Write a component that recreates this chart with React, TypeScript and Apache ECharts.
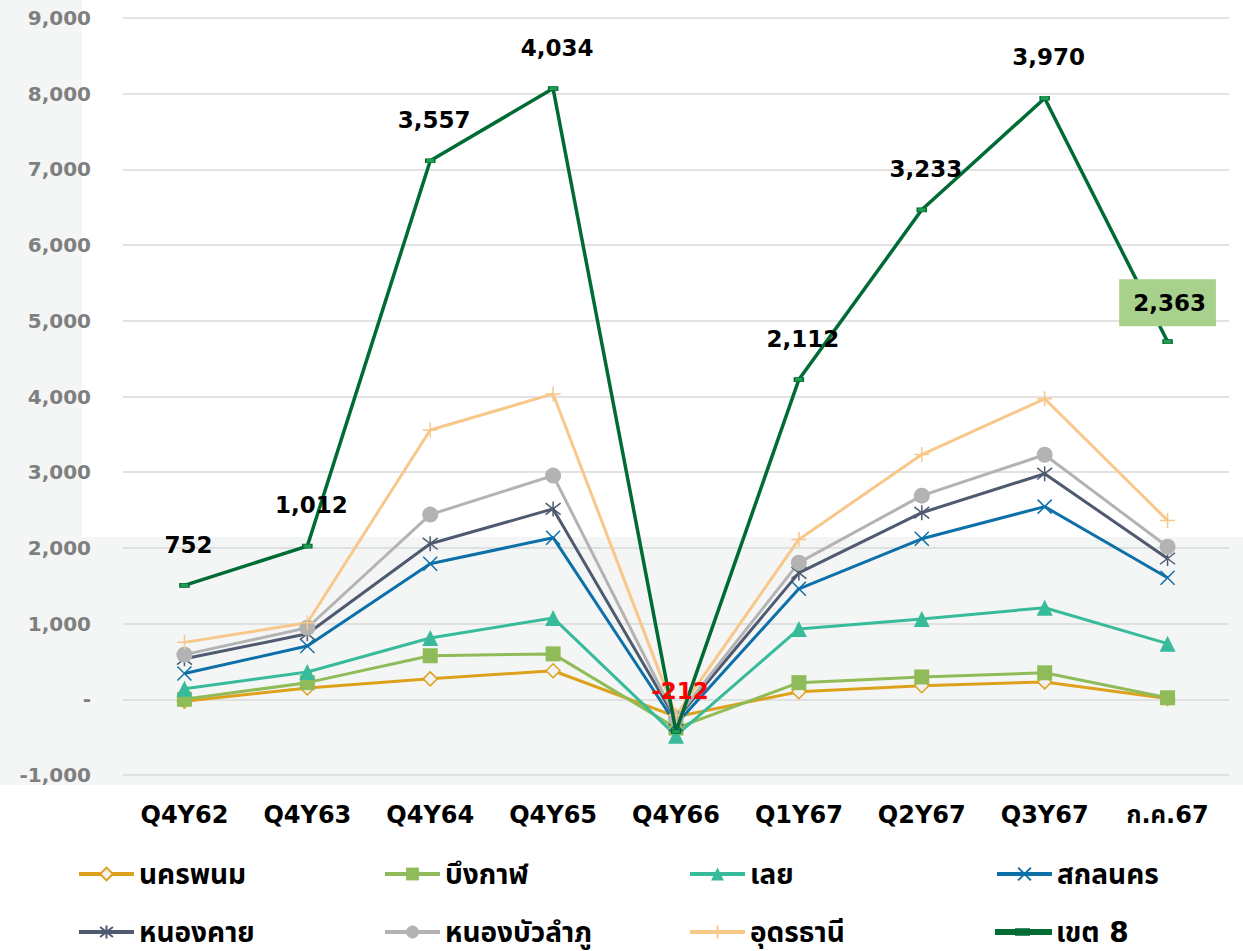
import React, { useEffect, useRef } from "react";
import * as echarts from "echarts";

const categories = ["Q4Y62", "Q4Y63", "Q4Y64", "Q4Y65", "Q4Y66", "Q1Y67", "Q2Y67", "Q3Y67", "ก.ค.67"];
const yTicks = [-1000, 0, 1000, 2000, 3000, 4000, 5000, 6000, 7000, 8000, 9000];

const nakhonPhanom = [-25, 150, 270, 377, -230, 100, 180, 230, 10];
const buengKan = [25, 70, 305, 223, -150, 120, 115, 120, 10];
const loei = [140, 140, 235, 475, -100, 710, 765, 860, 715];
const sakonNakhon = [200, 345, 980, 1060, 150, 530, 1060, 1335, 870];
const nongKhai = [195, 160, 265, 380, 60, 210, 345, 435, 255];
const nongBuaLamphu = [55, 80, 385, 440, 20, 135, 225, 250, 155];
const udonThani = [162, 67, 1117, 1079, 38, 307, 543, 740, 348];
const region8 = [752, 1012, 3557, 4034, -212, 2112, 3233, 3970, 2363];

const FONT = "'DejaVu Sans', 'Noto Sans Thai', 'Noto Sans', sans-serif";

const X_PATH = "path://M0,0L10,10M10,0L0,10";
const STAR_PATH = "path://M0,0L10,10M10,0L0,10M5,-1.5L5,11.5";
const PLUS_PATH = "path://M5,0L5,10M0,5L10,5";
const R8_ICON = "path://M0,5H55V9H0Z M20,4.2H33V9.8H20Z";

const fmt = (v: number) => (v === 0 ? "-" : v.toLocaleString("en-US"));

export default function App() {
  const ref = useRef<HTMLDivElement>(null);
  useEffect(() => {
    if (!ref.current) return;
    const chart = echarts.init(ref.current, undefined, { renderer: "svg" });

    const base = (name: string, data: number[], color: string, symbol: string, size: number, extra: any = {}) => ({
      name,
      type: "line",
      stack: "total",
      stackStrategy: "all",
      data,
      symbol,
      symbolSize: size,
      lineStyle: { color, width: 3 },
      itemStyle: { color },
      ...extra,
    });

    const strokeSym = (color: string) => ({
      itemStyle: { color: "none", borderColor: color, borderWidth: 1.5 },
    });

    const series: any[] = [
      base("นครพนม", nakhonPhanom, "#dea11c", "diamond", 14, {
        itemStyle: { color: "#f2f2f2", borderColor: "#dea11c", borderWidth: 1.5 },
      }),
      base("บึงกาฬ", buengKan, "#8fbb59", "rect", 15),
      base("เลย", loei, "#37bb9b", "triangle", 16),
      base("สกลนคร", sakonNakhon, "#0d70a8", X_PATH, 14, strokeSym("#0d70a8")),
      base("หนองคาย", nongKhai, "#4f5a70", STAR_PATH, 15, strokeSym("#4f5a70")),
      base("หนองบัวลำภู", nongBuaLamphu, "#b3b3b3", "circle", 16),
      base("อุดรธานี", udonThani, "#f8c88a", PLUS_PATH, 15, strokeSym("#f8c88a")),
      {
        name: "เขต 8",
        type: "line",
        stack: "total",
        stackStrategy: "all",
        symbol: "rect",
        symbolSize: [9, 4],
        lineStyle: { color: "#006b35", width: 3.5 },
        itemStyle: { color: "#1f9e4f", borderColor: "#006b35", borderWidth: 1 },
        z: 5,
        data: region8.map((v, i) => {
          const item: any = { value: v };
          if (v < 0) item.label = { color: "#ff0000" };
          if (i === region8.length - 1)
            item.label = {
              backgroundColor: "#a9d18e",
              padding: [12, 10, 12, 14],
              distance: 13,
              offset: [0, 0],
            };
          return item;
        }),
        label: {
          show: true,
          position: "top",
          distance: 27,
          offset: [4, 0],
          color: "#000",
          fontFamily: FONT,
          fontWeight: "bold",
          fontSize: 23,
          formatter: (p: any) => fmt(p.value),
        },
      },
    ];

    const legendPos = [
      [77, 860], [383, 860], [688, 860], [995, 860],
      [77, 918], [383, 918], [688, 918], [995, 918],
    ];
    const legends = series.map((s, i) => ({
      data: [i === 7 ? { name: s.name, icon: R8_ICON, itemStyle: { color: "#006b35" } } : s.name],
      left: legendPos[i][0],
      top: legendPos[i][1],
      padding: 0,
      itemWidth: 55,
      itemHeight: 16,
      itemGap: 5,
      lineStyle: { width: 4 },
      textStyle: { fontFamily: FONT, fontWeight: "bold", fontSize: 28, color: "#000" },
      selectedMode: false,
    }));

    chart.setOption({
      animation: false,
      backgroundColor: "#ffffff",
      graphic: [
        { type: "rect", shape: { x: 0, y: 537, width: 1243, height: 248 }, style: { fill: "#f4f6f5" }, z: -10, silent: true },
        { type: "rect", shape: { x: 0, y: 0, width: 82, height: 537 }, style: { fill: "#f4f6f5" }, z: -10, silent: true },
      ],
      grid: { left: 123, right: 14, top: 18, bottom: 176, containLabel: false },
      legend: legends,
      xAxis: {
        type: "category",
        data: categories,
        boundaryGap: true,
        axisLine: { show: false },
        axisTick: { show: false },
        axisLabel: { color: "#000", fontFamily: FONT, fontWeight: "bold", fontSize: 24, margin: 28 },
      },
      yAxis: {
        type: "value",
        min: yTicks[0],
        max: yTicks[yTicks.length - 1],
        interval: 1000,
        axisLine: { show: false },
        axisTick: { show: false },
        splitLine: { lineStyle: { color: "#d9d9d9", width: 1.5 } },
        axisLabel: {
          color: "#7f7f7f",
          fontFamily: FONT,
          fontWeight: "bold",
          fontSize: 20,
          margin: 32,
          formatter: (v: number) => fmt(v),
        },
      },
      series,
    });
    return () => chart.dispose();
  }, []);

  return <div ref={ref} style={{ position: "fixed", left: 0, top: 0, width: 1243, height: 951 }} />;
}
